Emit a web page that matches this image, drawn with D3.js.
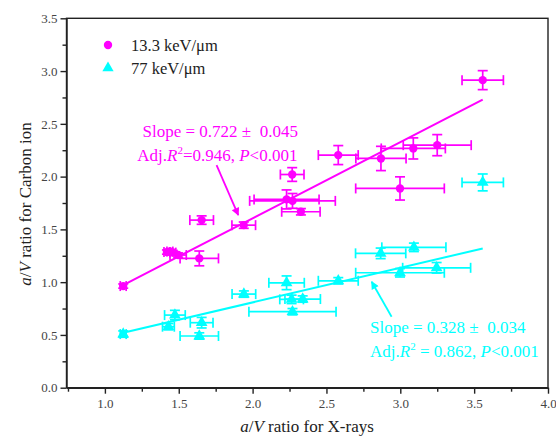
<!DOCTYPE html>
<html>
<head>
<meta charset="utf-8">
<script src="https://d3js.org/d3.v7.min.js"></script>
<style>
  body { margin: 0; background: #fff; }
  svg text { font-family: 'Liberation Serif', 'Times New Roman', serif; }
  .axis path, .axis line { stroke: #222; stroke-width: 1.4; }
  .axis text { fill: #444; font-size: 13px; }
</style>
</head>
<body>
<svg id="chart" width="556" height="439"></svg>
<script>
// --- data: 13.3 keV/um (carbon, low LET) ---
var magX    = [1.124, 1.42, 1.44, 1.46, 1.496, 1.639, 1.655, 1.94, 2.268, 2.23, 2.27, 2.327, 2.58, 2.869, 2.998, 3.088, 3.25, 3.558];
var magY    = [0.963, 1.285, 1.29, 1.28, 1.257, 1.225, 1.588, 1.54, 2.02, 1.784, 1.77, 1.667, 2.204, 2.172, 1.888, 2.267, 2.298, 2.914];
var magXErr = [0.02, 0.02, 0.02, 0.02, 0.055, 0.13, 0.08, 0.08, 0.08, 0.22, 0.29, 0.13, 0.135, 0.17, 0.3, 0.217, 0.23, 0.14];
var magYErr = [0.02, 0.02, 0.02, 0.02, 0.02, 0.07, 0.04, 0.03, 0.065, 0.09, 0.07, 0.03, 0.09, 0.115, 0.11, 0.1, 0.1, 0.09];

// --- data: 77 keV/um ---
var cyaX    = [1.124, 1.43, 1.474, 1.655, 1.639, 1.941, 2.23, 2.264, 2.339, 2.27, 2.58, 2.867, 3.092, 2.998, 3.246, 3.558];
var cyaY    = [0.508, 0.578, 0.688, 0.616, 0.49, 0.887, 0.994, 0.837, 0.84, 0.72, 1.013, 1.273, 1.33, 1.089, 1.136, 1.945];
var cyaXErr = [0.02, 0.04, 0.07, 0.077, 0.13, 0.08, 0.12, 0.08, 0.12, 0.295, 0.135, 0.17, 0.217, 0.3, 0.23, 0.14];
var cyaYErr = [0.03, 0.03, 0.045, 0.05, 0.03, 0.03, 0.065, 0.04, 0.03, 0.03, 0.03, 0.05, 0.04, 0.04, 0.05, 0.08];

// linear fits: [slope, intercept], drawn over fitRange
var fitRange = [1.124, 3.558];
var magFit = [0.722, 0.161];
var cyaFit = [0.328, 0.152];

var xTicks = [1.0, 1.5, 2.0, 2.5, 3.0, 3.5, 4.0];
var yTicks = [0.0, 0.5, 1.0, 1.5, 2.0, 2.5, 3.0, 3.5];
var seriesNames = ["13.3 keV/\u03bcm", "77 keV/\u03bcm"];

var MAG = "#ff00ff", CYA = "#00ffff";

var svg = d3.select("#chart");
var x = d3.scaleLinear().domain([0.74, 4.0]).range([66.5, 548]);
var y = d3.scaleLinear().domain([0, 3.5]).range([387.7, 18.3]);

// frame
svg.append("rect")
  .attr("x", x.range()[0]).attr("y", y.range()[1])
  .attr("width", x.range()[1] - x.range()[0])
  .attr("height", y.range()[0] - y.range()[1])
  .attr("fill", "none").attr("stroke", "#222").attr("stroke-width", 1.4);

// minor ticks
var xMinor = d3.range(0.75, 4.0, 0.5);
var yMinor = d3.range(0.25, 3.5, 0.5);
svg.append("g").attr("class", "axis")
  .attr("transform", "translate(0," + y.range()[0] + ")")
  .call(d3.axisBottom(x).tickValues(xMinor.filter(function(d){ return d > 0.74; })).tickSize(4).tickFormat(""))
  .select(".domain").remove();
svg.append("g").attr("class", "axis")
  .attr("transform", "translate(" + x.range()[0] + ",0)")
  .call(d3.axisLeft(y).tickValues(yMinor).tickSize(4).tickFormat(""))
  .select(".domain").remove();

// major axes
svg.append("g").attr("class", "axis")
  .attr("transform", "translate(0," + y.range()[0] + ")")
  .call(d3.axisBottom(x).tickValues(xTicks).tickSize(6).tickPadding(5).tickSizeOuter(0).tickFormat(d3.format(".1f")));
svg.append("g").attr("class", "axis")
  .attr("transform", "translate(" + x.range()[0] + ",0)")
  .call(d3.axisLeft(y).tickValues(yTicks).tickSize(6).tickPadding(3).tickSizeOuter(0).tickFormat(d3.format(".1f")));

// axis titles
var xt = svg.append("text").attr("x", 307).attr("y", 432).attr("text-anchor", "middle")
  .attr("font-size", 17).attr("fill", "#222");
xt.append("tspan").attr("font-style", "italic").text("a");
xt.append("tspan").text("/");
xt.append("tspan").attr("font-style", "italic").text("V");
xt.append("tspan").text(" ratio for X-rays");

var yt = svg.append("text").attr("transform", "translate(31,204) rotate(-90)").attr("text-anchor", "middle")
  .attr("font-size", 17).attr("fill", "#222");
yt.append("tspan").attr("font-style", "italic").text("a");
yt.append("tspan").text("/");
yt.append("tspan").attr("font-style", "italic").text("V");
yt.append("tspan").text(" ratio for Carbon ion");

// fit lines
function fitLine(fit, color) {
  svg.append("line")
    .attr("x1", x(fitRange[0])).attr("y1", y(fit[0] * fitRange[0] + fit[1]))
    .attr("x2", x(fitRange[1])).attr("y2", y(fit[0] * fitRange[1] + fit[1]))
    .attr("stroke", color).attr("stroke-width", 2);
}

function series(xs, ys, xe, ye, color, shape) {
  var g = svg.append("g").attr("stroke", color).attr("stroke-width", 1.7).attr("fill", color);
  var cap = 5;
  xs.forEach(function(d, i) {
    var cx = x(d), cy = y(ys[i]);
    var x0 = x(d - xe[i]), x1 = x(d + xe[i]);
    var y0 = y(ys[i] - ye[i]), y1 = y(ys[i] + ye[i]);
    g.append("line").attr("x1", x0).attr("x2", x1).attr("y1", cy).attr("y2", cy);
    g.append("line").attr("x1", x0).attr("x2", x0).attr("y1", cy - cap).attr("y2", cy + cap);
    g.append("line").attr("x1", x1).attr("x2", x1).attr("y1", cy - cap).attr("y2", cy + cap);
    g.append("line").attr("x1", cx).attr("x2", cx).attr("y1", y0).attr("y2", y1);
    g.append("line").attr("x1", cx - cap).attr("x2", cx + cap).attr("y1", y0).attr("y2", y0);
    g.append("line").attr("x1", cx - cap).attr("x2", cx + cap).attr("y1", y1).attr("y2", y1);
    g.append("path").attr("stroke", "none")
      .attr("transform", "translate(" + cx + "," + cy + ")")
      .attr("d", d3.symbol().type(shape).size(shape === d3.symbolCircle ? 55 : 60)());
  });
}

fitLine(magFit, MAG);
fitLine(cyaFit, CYA);
series(magX, magY, magXErr, magYErr, MAG, d3.symbolCircle);
series(cyaX, cyaY, cyaXErr, cyaYErr, CYA, d3.symbolTriangle);

// legend
var legend = [[seriesNames[0], MAG, d3.symbolCircle, 45], [seriesNames[1], CYA, d3.symbolTriangle, 68]];
legend.forEach(function(l) {
  svg.append("path").attr("fill", l[1])
    .attr("transform", "translate(108," + l[3] + ")")
    .attr("d", d3.symbol().type(l[2]).size(55)());
  svg.append("text").attr("x", 131).attr("y", l[3] + 6).attr("font-size", 16.5).attr("fill", "#222").text(l[0]);
});

// arrows
var defs = svg.append("defs");
[["mArrow", MAG], ["cArrow", CYA]].forEach(function(a) {
  defs.append("marker").attr("id", a[0]).attr("viewBox", "0 0 10 10")
    .attr("refX", 9).attr("refY", 5).attr("markerWidth", 10).attr("markerHeight", 8)
    .attr("markerUnits", "userSpaceOnUse").attr("orient", "auto")
    .append("path").attr("d", "M0,0 L10,5 L0,10 Z").attr("fill", a[1]);
});
function arrow(x0, y0, x1, y1, color, id) {
  svg.append("line").attr("x1", x(x0)).attr("y1", y(y0)).attr("x2", x(x1)).attr("y2", y(y1))
    .attr("stroke", color).attr("stroke-width", 1.8).attr("marker-end", "url(#" + id + ")");
}
arrow(1.756, 2.109, 1.903, 1.635, MAG, "mArrow");
arrow(2.941, 0.672, 2.806, 1.004, CYA, "cArrow");

// fit annotations
function annot(px, py1, py2, color, slope, se, r2text, sep) {
  svg.append("text").attr("x", x(px[0])).attr("y", y(py1)).attr("font-size", 17).attr("fill", color)
    .attr("xml:space", "preserve").text("Slope = " + slope + " \u00b1  " + se);
  var t = svg.append("text").attr("x", x(px[1])).attr("y", y(py2)).attr("font-size", 17).attr("fill", color)
    .attr("xml:space", "preserve");
  t.append("tspan").text("Adj.");
  t.append("tspan").attr("font-style", "italic").text("R");
  t.append("tspan").attr("font-size", 11).attr("dy", -7).text("2");
  t.append("tspan").attr("dy", 7).text(sep + r2text + ", ");
  t.append("tspan").attr("font-style", "italic").text("P");
  t.append("tspan").text("<0.001");
}
annot([1.255, 1.219], 2.377, 2.15, MAG, "0.722", "0.045", "0.946", "=");
annot([2.795, 2.795], 0.515, 0.294, CYA, "0.328", "0.034", "0.862", " = ");
</script>
</body>
</html>
